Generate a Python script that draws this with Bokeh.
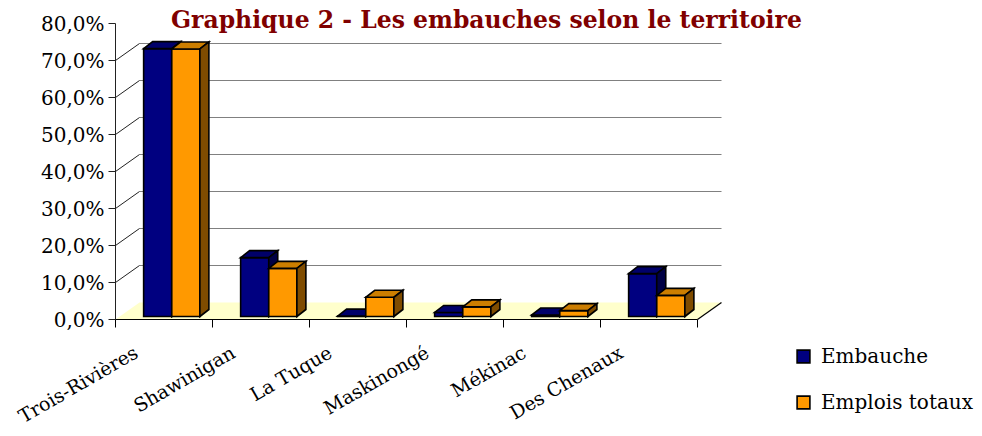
from bokeh.plotting import figure
from bokeh.models import Range1d, Legend, LegendItem, Label
from bokeh.core.properties import value
from bokeh.embed import file_html
from bokeh.resources import INLINE
import math

# ---------------- data ----------------
title_text = "Graphique 2 -  Les embauches selon le territoire"
categories = ["Trois-Rivières", "Shawinigan", "La Tuque", "Maskinongé", "Mékinac", "Des Chenaux"]
embauche = [72.4, 15.9, 0.1, 1.1, 0.4, 11.6]
emplois_totaux = [72.3, 13.0, 5.2, 2.6, 1.6, 5.7]
series_names = ["Embauche", "Emplois totaux"]
y_ticks = [0, 10, 20, 30, 40, 50, 60, 70, 80]

# ---------------- layout (pixels) ----------------
W, H = 974, 428
ORIGIN_X, ORIGIN_Y = 115, 319      # pixel position of (first category edge, 0 %)
PX_PER_CAT = 97.0
PX_PER_PCT = 3.7
n = len(categories)


def px_x(d):   # pixel distance -> x data units
    return d / PX_PER_CAT


def px_y(d):   # pixel distance -> y data units
    return d / PX_PER_PCT


DX, DY = px_x(24), px_y(17)        # floor depth
BDX, BDY = px_x(9), px_y(7)        # bar depth
BASE = px_y(3)                     # bars stand slightly back on the floor
BAR_START, BAR_W = 0.29, 0.29
FONT = "DejaVu Serif"

p = figure(width=W, height=H, title=None, toolbar_location=None, output_backend="svg",
           x_range=Range1d(-px_x(ORIGIN_X), px_x(W - ORIGIN_X)),
           y_range=Range1d(-px_y(H - ORIGIN_Y), px_y(ORIGIN_Y)),
           x_axis_type=None, y_axis_type=None, min_border=0)
p.outline_line_color = None
p.grid.visible = False

# floor
p.patch([0, n, n + DX, DX], [0, 0, DY, DY], fill_color="#FFFFCC", line_color=None)

# back wall gridlines and slanted ticks on the side wall
grid_vals = y_ticks[1:-1]
p.segment(x0=[DX] * len(grid_vals), y0=[v + DY for v in grid_vals],
          x1=[n + DX] * len(grid_vals), y1=[v + DY for v in grid_vals],
          line_color="#808080", line_width=1.2)
p.segment(x0=[0] * len(grid_vals), y0=grid_vals,
          x1=[DX] * len(grid_vals), y1=[v + DY for v in grid_vals],
          line_color="#222222", line_width=1)
p.segment(x0=[n], y0=[0], x1=[n + DX], y1=[DY], line_color="#000000", line_width=1.2)

# bars
colors = [
    dict(front="#000080", top="#00006A", side="#000045"),
    dict(front="#FF9900", top="#CC7E00", side="#7F4C00"),
]
front_renderers = []
for s, vals in enumerate([embauche, emplois_totaux]):
    fx, fy, tx, ty, sx, sy = [], [], [], [], [], []
    for i, v in enumerate(vals):
        x0 = i + BAR_START + s * BAR_W
        x1 = x0 + BAR_W
        y0 = BASE
        y1 = BASE + v
        fx.append([x0, x1, x1, x0]); fy.append([y0, y0, y1, y1])
        tx.append([x0, x1, x1 + BDX, x0 + BDX]); ty.append([y1, y1, y1 + BDY, y1 + BDY])
        sx.append([x1, x1 + BDX, x1 + BDX, x1]); sy.append([y0, y0 + BDY, y1 + BDY, y1])
    c = colors[s]
    fr = p.patches(fx, fy, fill_color=c["front"], line_color="black", line_width=1.6,
                   line_join="miter")
    p.patches(tx, ty, fill_color=c["top"], line_color="black", line_width=1.6, line_join="miter")
    p.patches(sx, sy, fill_color=c["side"], line_color="black", line_width=1.6, line_join="miter")
    front_renderers.append(fr)

# value axis (left)
p.segment(x0=[0], y0=[y_ticks[0]], x1=[0], y1=[y_ticks[-1]], line_color="#222222", line_width=1)
p.segment(x0=[-px_x(7)] * len(y_ticks), y0=y_ticks, x1=[0] * len(y_ticks), y1=y_ticks,
          line_color="#222222", line_width=1)
tick_labels = [f"{t:.1f}".replace(".", ",") + "%" for t in y_ticks]
p.text(x=[-px_x(11)] * len(y_ticks), y=y_ticks, text=tick_labels,
       text_font=value(FONT), text_font_size=value("20px"), text_color="black",
       text_align="right", text_baseline="middle")

# category axis (bottom)
edges = list(range(n + 1))
p.segment(x0=[0], y0=[0], x1=[n], y1=[0], line_color="black", line_width=1.2)
p.segment(x0=edges, y0=[0] * len(edges), x1=edges, y1=[-px_y(8)] * len(edges),
          line_color="black", line_width=1)
p.text(x=[i + 0.5 - px_x(28) for i in range(n)], y=[-px_y(31)] * n, text=categories,
       angle=math.radians(30), text_font=value(FONT), text_font_size=value("19px"),
       text_color="black", text_align="right", text_baseline="middle")

# title
p.add_layout(Label(x=490, y=H - 19, x_units="screen", y_units="screen",
                   text=title_text, text_align="center", text_baseline="alphabetic",
                   text_font=FONT, text_font_style="bold", text_font_size="23.5px",
                   text_color="#800000"))

# legend
legend = Legend(items=[LegendItem(label=series_names[0], renderers=[front_renderers[0]]),
                       LegendItem(label=series_names[1], renderers=[front_renderers[1]])],
                location=(795, 14), orientation="vertical", padding=0, margin=0,
                spacing=22, glyph_width=16, glyph_height=16, label_standoff=10,
                label_text_font=FONT, label_text_font_size="20px",
                label_text_color="black",
                border_line_color=None, background_fill_alpha=0)
p.add_layout(legend)

open("out.html", "w").write(file_html(p, INLINE))
